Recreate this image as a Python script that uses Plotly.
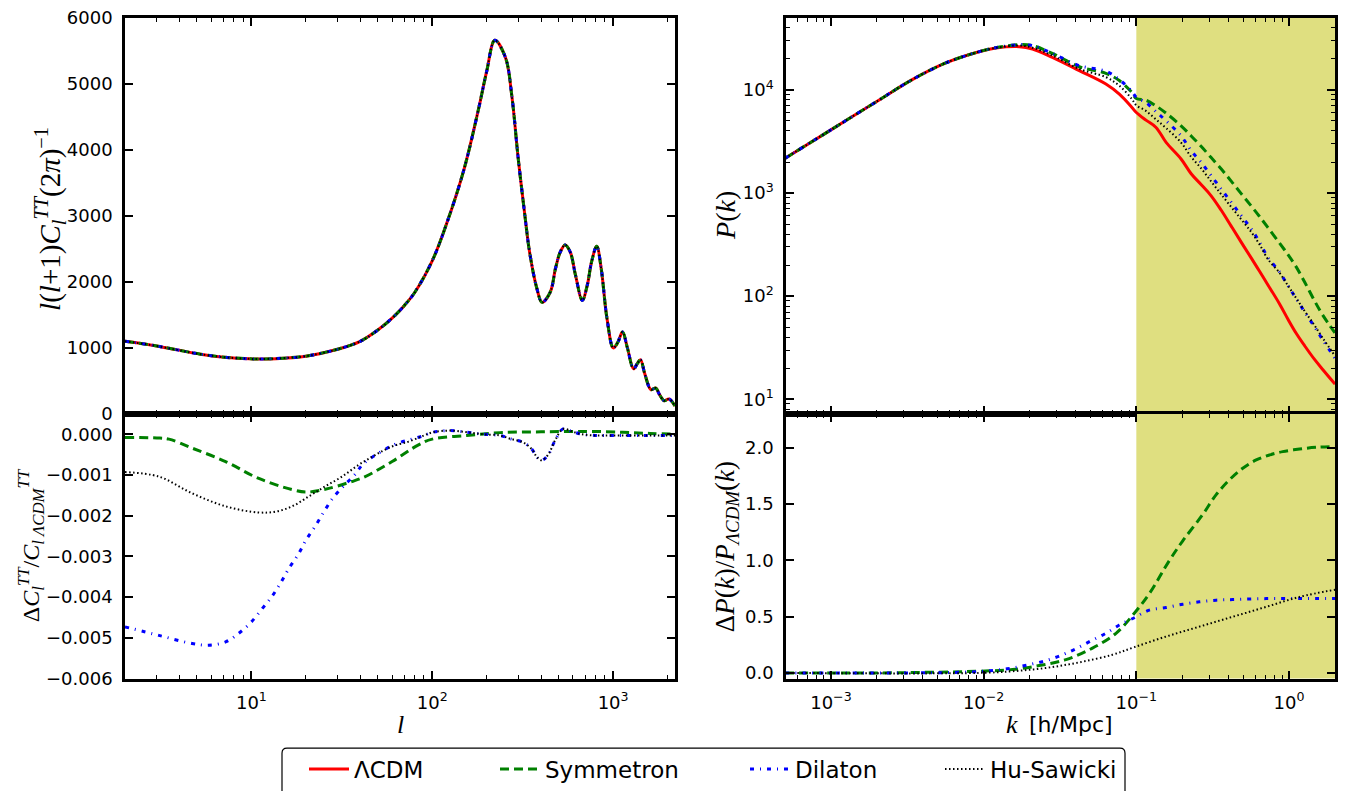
import plotly.graph_objects as go
import math

# ---------------- data ----------------
# CMB TT spectrum (all four models overlap in the top-left panel)
ell = [2, 2.77, 3.89, 5.23, 7.34, 9.9, 11, 15, 20, 30, 40, 50, 60, 70, 80, 100, 120, 150, 180, 200,
       222, 254, 276, 298, 327, 345, 379, 405, 450, 480, 510, 543, 580, 620, 676, 720, 760, 812, 860,
       925, 1003, 1060, 1128, 1200, 1297, 1360, 1418, 1500, 1620, 1724, 1800, 1917, 2040, 2200]
cl_tt = [1100, 1045, 970, 905, 855, 834, 830, 845, 875, 980, 1100, 1270, 1450, 1640, 1840, 2320, 2880, 3710, 4610, 5190,
         5660, 5400, 4800, 3900, 2955, 2460, 1900, 1690, 1850, 2200, 2450, 2560, 2450, 2100, 1720, 1950, 2300, 2540, 2200,
         1450, 1000, 1080, 1240, 1000, 683, 760, 820, 600, 367, 392, 300, 200, 226, 120]

# relative CMB differences
ell_sym = [2, 3, 3.5, 4.7, 7.2, 10.9, 16.8, 20, 25.6, 36, 42.6, 60, 84, 100, 155, 237, 400, 700, 1130, 1600, 2200]
dcl_sym = [-0.00008, -0.00009, -0.00012, -0.00034, -0.00067, -0.00108, -0.00136, -0.00142, -0.00135, -0.00116,
           -0.00104, -0.00067, -0.00026, -0.00012, -0.00003, 0.00004, 0.00006, 0.00007, 0.00005, 0.00002, 0.0]

ell_dil = [2, 3.08, 4.7, 5.8, 7.2, 8.5, 9.9, 11.4, 13, 14.5, 16.1, 18.1, 20.1, 22.6, 25.2, 28.2, 32.2, 37, 42, 57,
           66.5, 77, 89, 101, 126, 156, 191, 237, 270, 319, 356, 379, 403, 438, 478, 529, 599, 672, 800, 1000, 1500, 2200]
dcl_dil = [-0.00473, -0.00494, -0.00514, -0.00518, -0.0051, -0.00489, -0.00463, -0.0043, -0.00398, -0.00365, -0.0033,
           -0.00296, -0.00259, -0.00225, -0.0019, -0.00157, -0.00128, -0.00101, -0.00071, -0.00033, -0.0002, -0.00012,
           -0.00004, 0.00005, 0.00009, 0.00005, 0.0, -0.00003, -0.00011, -0.0002, -0.00037, -0.00056, -0.00064, -0.0005,
           -0.00015, 0.00013, 0.00006, 0.0, -0.00003, -0.00003, -0.00003, -0.00003]

ell_hs = [2, 3.08, 4.7, 7.2, 10.9, 13.6, 16.8, 20.7, 25.6, 31.7, 39.2, 48.4, 59.9, 74, 89, 101, 126, 156, 191, 237,
          270, 319, 356, 379, 403, 438, 478, 529, 599, 672, 800, 1000, 1500, 2200]
dcl_hs = [-0.00093, -0.00104, -0.00145, -0.00177, -0.00192, -0.0019, -0.00177, -0.00153, -0.00128, -0.00104, -0.00075,
          -0.00051, -0.0003, -0.00018, -0.00004, 0.00005, 0.00009, 0.00005, 0.0, -0.00003, -0.00011, -0.0002, -0.00037,
          -0.00056, -0.00064, -0.0005, -0.00015, 0.00013, 0.00006, 0.0, -0.00003, -0.00003, -0.00003, -0.00003]

# matter power spectra
k_pk = [0.0005, 0.001, 0.00207, 0.00341, 0.00565, 0.00933, 0.012, 0.0171, 0.0209, 0.0282, 0.0423, 0.0632, 0.0774,
        0.0933, 0.1, 0.1156, 0.1346, 0.1567, 0.1963, 0.2286, 0.2655, 0.309, 0.359, 0.418, 0.486, 0.565, 0.641,
        0.726, 0.867, 0.982, 1.114, 1.265, 1.469, 1.667, 2.0]
pk_lcdm = [2170, 4100, 8000, 12600, 18300, 23500, 25500, 26300, 25000, 20700, 15400, 11400, 9100,
           6810, 6040, 5100, 4330, 3100, 2140, 1540, 1210, 940, 684, 478, 334, 235, 174,
           129, 84, 60, 43.6, 33, 24.3, 19.3, 14]
pk_sym = [2170, 4100, 8000, 12600, 18300, 23500, 25700, 27500, 26900, 22650, 16800, 14500, 12330,
          9500, 8260, 7950, 7000, 5950, 4490, 3580, 2840, 2207, 1718, 1306, 988, 750, 592,
          464, 326, 254, 192, 137, 90, 65, 44]
pk_dil = [2170, 4100, 8000, 12600, 18300, 23500, 25700, 27500, 26900, 22650, 17200, 15200, 12600,
          9700, 8500, 7550, 6150, 5020, 3590, 2570, 1985, 1473, 1096, 815, 604, 450, 334,
          239, 171, 127, 94.6, 70.3, 50.4, 37.4, 25]
pk_hs = [2170, 4100, 8000, 12600, 18300, 23500, 25600, 27000, 25700, 21600, 16000, 13300, 11000,
         8200, 7100, 6270, 5170, 4270, 3090, 2240, 1740, 1296, 975, 733, 556, 419, 317,
         229, 168, 127, 95.5, 71.7, 51.9, 38.9, 26.3]

# relative power spectrum differences
k_sym = [0.0005, 0.001, 0.00207, 0.00933, 0.01545, 0.0231, 0.0346, 0.0516, 0.0736, 0.097, 0.1216, 0.1644,
         0.2014, 0.2723, 0.3334, 0.4074, 0.4977, 0.6095, 0.7447, 0.9099, 1.172, 1.507, 2.0]
dpk_sym = [0.0, 0.0, 0.0, 0.015, 0.03, 0.065, 0.118, 0.22, 0.352, 0.53, 0.704, 0.997,
           1.173, 1.407, 1.583, 1.715, 1.818, 1.891, 1.935, 1.965, 1.988, 2.003, 2.01]
k_dil = [0.0005, 0.001, 0.00726, 0.012, 0.01545, 0.01986, 0.0256, 0.0321, 0.0403, 0.0505, 0.0632, 0.0774,
         0.097, 0.1216, 0.1567, 0.2014, 0.2588, 0.3334, 0.4285, 0.7096, 1.172, 2.0]
dpk_dil = [0.0, 0.0, 0.006, 0.024, 0.044, 0.074, 0.109, 0.156, 0.215, 0.285, 0.352, 0.426,
           0.49, 0.558, 0.58, 0.61, 0.631, 0.646, 0.651, 0.66, 0.66, 0.66]
k_hs = [0.0005, 0.00933, 0.01545, 0.0256, 0.0423, 0.0699, 0.097, 0.1567, 0.2588, 0.4285, 0.7096, 1.172, 2.0]
dpk_hs = [0.0, 0.0, 0.015, 0.044, 0.094, 0.162, 0.229, 0.323, 0.411, 0.499, 0.587, 0.675, 0.739]

names = ["ΛCDM", "Symmetron", "Dilaton", "Hu-Sawicki"]
colors = ["red", "green", "blue", "black"]
dashes = ["solid", "9px,5px", "4px,6px,1px,6px", "1.5px,2.5px"]
widths = [3, 3, 3, 2]

# axis ranges
l_range = [2, 2200]
k_range = [5.08e-4, 2.0]
cl_range = [0, 6000]
dcl_range = [-0.006, 0.0005]
pk_range = [7.2, 5.0e4]
dpk_range = [-0.05, 2.3]
shade_k = [0.1, 2.0]

# ---------------- layout helpers ----------------
W, H = 1347, 791
def fx(p): return p / W
def fy(p): return 1 - p / H

xL = [fx(125), fx(675)]
xR = [fx(786), fx(1335)]
yT = [fy(416), fy(18)]
yB = [fy(682), fy(416)]

fig = go.Figure()

# shaded region (k >= 0.1) in both right panels
for xa, ya, yr in [("x2", "y2", [1, 1e7]), ("x4", "y4", [-1, 5])]:
    fig.add_trace(go.Scatter(x=[shade_k[0], shade_k[1], shade_k[1], shade_k[0], shade_k[0]],
                             y=[yr[0], yr[0], yr[1], yr[1], yr[0]], fill="toself",
                             fillcolor="#dfdf80", line=dict(width=0), mode="lines",
                             showlegend=False, hoverinfo="skip", xaxis=xa, yaxis=ya))

# top-left: CMB spectra
legend_ids = ["legend", "legend2", "legend3", "legend4"]
for i in range(4):
    fig.add_trace(go.Scatter(x=ell, y=cl_tt, mode="lines", name=names[i],
                             line=dict(color=colors[i], dash=dashes[i], width=widths[i], shape="spline"),
                             xaxis="x", yaxis="y", showlegend=True, legend=legend_ids[i]))

# top-right: P(k)
for i, pk in enumerate([pk_lcdm, pk_sym, pk_dil, pk_hs]):
    fig.add_trace(go.Scatter(x=k_pk, y=pk, mode="lines", name=names[i],
                             line=dict(color=colors[i], dash=dashes[i], width=widths[i], shape="spline"),
                             xaxis="x2", yaxis="y2", showlegend=False))

# bottom-left: relative Cl
for i, (lx, dy) in enumerate([(ell_sym, dcl_sym), (ell_dil, dcl_dil), (ell_hs, dcl_hs)], start=1):
    fig.add_trace(go.Scatter(x=lx, y=dy, mode="lines", name=names[i],
                             line=dict(color=colors[i], dash=dashes[i], width=widths[i], shape="spline"),
                             xaxis="x3", yaxis="y3", showlegend=False))

# bottom-right: relative P(k)
for i, (kx, dy) in enumerate([(k_sym, dpk_sym), (k_dil, dpk_dil), (k_hs, dpk_hs)], start=1):
    fig.add_trace(go.Scatter(x=kx, y=dy, mode="lines", name=names[i],
                             line=dict(color=colors[i], dash=dashes[i], width=widths[i], shape="spline"),
                             xaxis="x4", yaxis="y4", showlegend=False))

tickfont = dict(family="DejaVu Sans", size=18, color="black")
common = dict(showline=True, linecolor="black", linewidth=2.5, mirror="allticks", ticks="inside",
              ticklen=8, tickwidth=1.5, tickcolor="black", showgrid=False, zeroline=False,
              tickfont=tickfont, automargin=False, ticklabelstandoff=6)

def log_minor(lo, hi):
    vals = []
    for e in range(math.floor(math.log10(lo)), math.ceil(math.log10(hi)) + 1):
        for m in range(2, 10):
            v = m * 10 ** e
            if lo <= v <= hi:
                vals.append(v)
    return vals

minor_l = dict(ticks="inside", ticklen=4, tickwidth=1, tickcolor="black", tickvals=log_minor(*l_range))
minor_k = dict(ticks="inside", ticklen=4, tickwidth=1, tickcolor="black", tickvals=log_minor(*k_range))
minor_p = dict(ticks="inside", ticklen=4, tickwidth=1, tickcolor="black", tickvals=log_minor(*pk_range))

l_ticks = [10, 100, 1000]
l_text = ["10<sup>1</sup>", "10<sup>2</sup>", "10<sup>3</sup>"]
k_ticks = [0.001, 0.01, 0.1, 1]
k_text = ["10<sup>−3</sup>", "10<sup>−2</sup>", "10<sup>−1</sup>", "10<sup>0</sup>"]
p_ticks = [10, 100, 1000, 10000]
p_text = ["10<sup>1</sup>", "10<sup>2</sup>", "10<sup>3</sup>", "10<sup>4</sup>"]
cl_ticks = [0, 1000, 2000, 3000, 4000, 5000, 6000]
dcl_ticks = [-0.006, -0.005, -0.004, -0.003, -0.002, -0.001, 0.0]
dcl_text = [("%.3f" % v).replace("-", "−") for v in dcl_ticks]
dcl_text[-1] = "0.000"
dpk_ticks = [0.0, 0.5, 1.0, 1.5, 2.0]

lg = lambda r: [math.log10(r[0]), math.log10(r[1])]

fig.update_layout(
    width=W, height=H, autosize=False,
    margin=dict(l=0, r=0, t=0, b=0),
    paper_bgcolor="white", plot_bgcolor="white",
    xaxis=dict(common, type="log", domain=xL, anchor="y", range=lg(l_range), tickvals=l_ticks,
               ticktext=l_text, showticklabels=False, minor=minor_l),
    yaxis=dict(common, domain=yT, anchor="x", range=cl_range, tickvals=cl_ticks),
    xaxis2=dict(common, type="log", domain=xR, anchor="y2", range=lg(k_range), tickvals=k_ticks,
                ticktext=k_text, showticklabels=False, minor=minor_k),
    yaxis2=dict(common, type="log", domain=yT, anchor="x2", range=lg(pk_range), tickvals=p_ticks,
                ticktext=p_text, minor=minor_p),
    xaxis3=dict(common, type="log", domain=xL, anchor="y3", range=lg(l_range), tickvals=l_ticks,
                ticktext=l_text, minor=minor_l),
    yaxis3=dict(common, domain=yB, anchor="x3", range=dcl_range, tickvals=dcl_ticks, ticktext=dcl_text),
    xaxis4=dict(common, type="log", domain=xR, anchor="y4", range=lg(k_range), tickvals=k_ticks,
                ticktext=k_text, minor=minor_k),
    yaxis4=dict(common, domain=yB, anchor="x4", range=dpk_range, tickvals=dpk_ticks,
                ticktext=["0.0", "0.5", "1.0", "1.5", "2.0"]),
    showlegend=True,
)

leg_font = dict(family="DejaVu Sans", size=23, color="black")
for lid, xpos in zip(legend_ids, [304, 495, 745, 940]):
    fig.update_layout({lid: dict(x=fx(xpos), y=fy(773), xanchor="left", yanchor="middle",
                                 orientation="h", font=leg_font, bgcolor="rgba(0,0,0,0)",
                                 borderwidth=0, itemwidth=40)})

# legend frame (rounded top corners, runs off the bottom of the figure)
x0, x1, yt, yb = fx(282), fx(1125), fy(752), fy(800)
rx, ry = 5 / W, 5 / H
path = (f"M{x0},{yb} L{x0},{yt - ry} Q{x0},{yt} {x0 + rx},{yt} L{x1 - rx},{yt} "
        f"Q{x1},{yt} {x1},{yt - ry} L{x1},{yb}")
fig.add_shape(type="path", path=path, xref="paper", yref="paper",
              line=dict(color="black", width=1.2), layer="above")

serif = "Liberation Serif"
ann = [
    dict(x=fx(50), y=fy(220), textangle=-90,
         text="<i>l</i>(<i>l</i>+1)<i>C</i><sub><i>l</i></sub><sup><i>TT</i></sup>(2<i>π</i>)<sup>−1</sup>",
         font=dict(family=serif, size=29, color="black")),
    dict(x=fx(31), y=fy(548), textangle=-90,
         text="Δ<i>C</i><sub><i>l</i></sub><sup><i>TT</i></sup>/<i>C</i><sub><i>l ΛCDM</i></sub><sup><i>TT</i></sup>",
         font=dict(family=serif, size=24, color="black")),
    dict(x=fx(726), y=fy(217), textangle=-90, text="<i>P</i>(<i>k</i>)",
         font=dict(family=serif, size=28, color="black")),
    dict(x=fx(727), y=fy(550), textangle=-90,
         text="Δ<i>P</i>(<i>k</i>)/<i>P</i><sub><i>ΛCDM</i></sub>(<i>k</i>)",
         font=dict(family=serif, size=27, color="black")),
    dict(x=fx(400), y=fy(728), text="<i>l</i>", font=dict(family=serif, size=26, color="black")),
    dict(x=fx(1012), y=fy(728), text="<i>k</i>", font=dict(family=serif, size=26, color="black")),
    dict(x=fx(1071), y=fy(728), text="[h/Mpc]", font=dict(family="DejaVu Sans", size=22, color="black")),
]
for a in ann:
    fig.add_annotation(xref="paper", yref="paper", showarrow=False, xanchor="center", yanchor="middle", **a)

fig.write_html("out.html")
